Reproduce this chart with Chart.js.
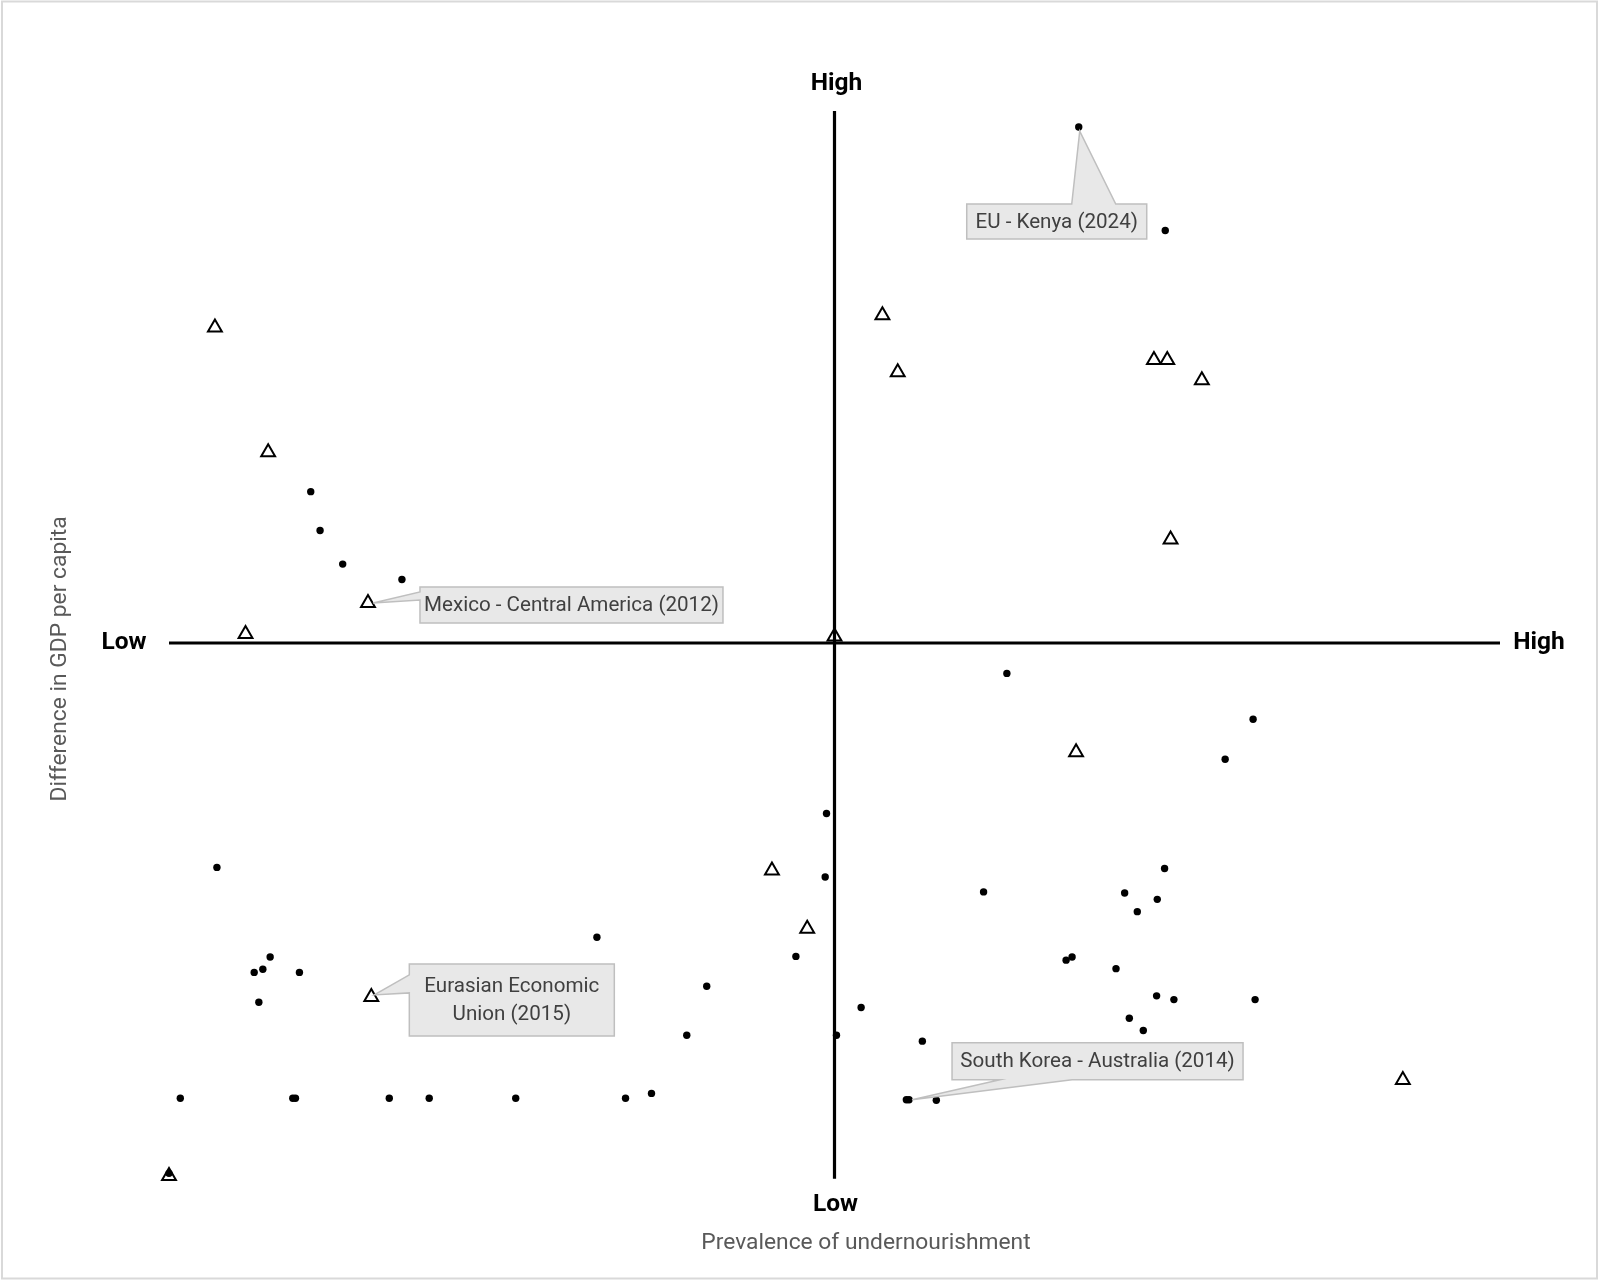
<!DOCTYPE html>
<html>
<head>
<meta charset="utf-8">
<script src="https://cdn.jsdelivr.net/npm/chart.js@4.4.1/dist/chart.umd.min.js"></script>
<style>
  html, body { margin: 0; padding: 0; background: #ffffff; }
  #c { display: block; }
</style>
</head>
<body>
<canvas id="c" width="1600" height="1282"></canvas>
<script>
// ---- Data (normalised positions, axes cross at 0, range -1..1) ----
const dotX = [0.367, 0.497, -0.787, -0.773, -0.739, -0.650, 0.259, 0.629, 0.587, -0.012,
  -0.928, -0.014, 0.224, 0.496, 0.436, 0.485, 0.455, -0.357, -0.848, -0.859,
  -0.872, -0.804, -0.865, -0.058, 0.348, 0.357, 0.423, -0.192, 0.484, 0.510,
  0.632, 0.040, 0.443, 0.464, -0.222, 0.003, 0.132, -0.983, -0.814, -0.810,
  -0.669, -0.609, -0.479, -0.314, -0.275, 0.108, 0.112, 0.153, -1.000];
const dotY = [0.968, 0.774, 0.284, 0.211, 0.148, 0.119, -0.057, -0.143, -0.218, -0.320,
  -0.421, -0.439, -0.467, -0.423, -0.469, -0.481, -0.504, -0.552, -0.589, -0.612,
  -0.618, -0.618, -0.674, -0.588, -0.595, -0.589, -0.611, -0.644, -0.662, -0.669,
  -0.669, -0.684, -0.704, -0.727, -0.736, -0.736, -0.747, -0.854, -0.854, -0.854,
  -0.854, -0.854, -0.854, -0.854, -0.845, -0.857, -0.857, -0.858, -0.995];
const triX = [-0.931, -0.851, -0.701, -0.885, 0.072, 0.095, 0.480, 0.500, 0.552, 0.505,
  0.000, 0.363, -0.094, -0.041, -0.696, 0.854, -1.000];
const triY = [0.592, 0.358, 0.075, 0.017, 0.615, 0.508, 0.531, 0.531, 0.493, 0.194,
  0.012, -0.205, -0.427, -0.536, -0.664, -0.820, -1.000];

const axisEndLabels = ['Low', 'High'];
const xAxisTitle = 'Prevalence of undernourishment';
const yAxisTitle = 'Difference in GDP per capita';

// callout labels and the point they describe
const calloutText = [['EU - Kenya (2024)'], ['Mexico - Central America (2012)'],
  ['Eurasian Economic', 'Union (2015)'], ['South Korea - Australia (2014)']];
const calloutSeries = [0, 1, 1, 0];
const calloutIndex = [0, 2, 14, 46];

// ---- styling for callouts (pixel offsets from the anchor point) ----
const calloutStyle = [
  { dx: -112, dy: 77, w: 180, h: 35, side: 'top', b1: -7, b2: 37, tx: 1, ty: 4 },
  { dx: 52, dy: -16, w: 303, h: 36, side: 'left', b1: -11, b2: -3, tx: 5, ty: 0 },
  { dx: 38, dy: -33, w: 205, h: 72, side: 'left', b1: -22, b2: -4, tx: 3, ty: -2 },
  { dx: 43, dy: -57, w: 291, h: 37, side: 'bottom', b1: 91, b2: 163, tx: 3, ty: 0 }
];

const FONT = 'Roboto, "Noto Sans", "Liberation Sans", sans-serif';

const quadPlugin = {
  id: 'quad',
  beforeDatasetsDraw(chart) {
    const ctx = chart.ctx, xs = chart.scales.x, ys = chart.scales.y;
    ctx.save();
    // outer frame
    ctx.strokeStyle = '#d9d9d9';
    ctx.lineWidth = 2;
    ctx.strokeRect(2, 1.5, 1595, 1277);
    // axes crossing at zero
    ctx.strokeStyle = '#000000';
    ctx.lineWidth = 3.2;
    ctx.beginPath();
    ctx.moveTo(xs.getPixelForValue(-1), ys.getPixelForValue(0));
    ctx.lineTo(xs.getPixelForValue(1), ys.getPixelForValue(0));
    ctx.moveTo(xs.getPixelForValue(0), ys.getPixelForValue(0.998));
    ctx.lineTo(xs.getPixelForValue(0), ys.getPixelForValue(-1.005));
    ctx.stroke();
    ctx.restore();
  },
  afterDraw(chart) {
    const ctx = chart.ctx, xs = chart.scales.x, ys = chart.scales.y;
    const cx = xs.getPixelForValue(0), cy = ys.getPixelForValue(0);
    ctx.save();
    // Low/High end labels
    ctx.fillStyle = '#000000';
    ctx.font = 'bold 24.5px ' + FONT;
    ctx.textAlign = 'center';
    ctx.textBaseline = 'middle';
    ctx.fillText(axisEndLabels[1], cx + 2, 84);
    ctx.fillText(axisEndLabels[0], cx + 1, 1205);
    ctx.fillText(axisEndLabels[0], 124, cy);
    ctx.fillText(axisEndLabels[1], 1539, cy);
    // axis titles
    ctx.fillStyle = '#595959';
    ctx.font = '22.8px ' + FONT;
    ctx.fillText(xAxisTitle, 866, 1243);
    ctx.translate(60, 659);
    ctx.rotate(-Math.PI / 2);
    ctx.fillText(yAxisTitle, 0, 0);
    ctx.restore();

    // callouts
    ctx.save();
    for (let i = 0; i < calloutText.length; i++) {
      const s = calloutStyle[i];
      const meta = chart.getDatasetMeta(calloutSeries[i]);
      const el = meta.data[calloutIndex[i]];
      const ax = el.x, ay = el.y;
      const bx = ax + s.dx, by = ay + s.dy;
      const tipX = ax + s.tx, tipY = ay + s.ty;
      ctx.fillStyle = '#e8e8e8';
      ctx.strokeStyle = '#bfbfbf';
      ctx.lineWidth = 1.5;
      ctx.beginPath();
      ctx.moveTo(bx, by);
      if (s.side === 'top') {
        ctx.lineTo(ax + s.b1, by);
        ctx.lineTo(tipX, tipY);
        ctx.lineTo(ax + s.b2, by);
      }
      ctx.lineTo(bx + s.w, by);
      ctx.lineTo(bx + s.w, by + s.h);
      if (s.side === 'bottom') {
        ctx.lineTo(ax + s.b2, by + s.h);
        ctx.lineTo(tipX, tipY);
        ctx.lineTo(ax + s.b1, by + s.h);
      }
      ctx.lineTo(bx, by + s.h);
      if (s.side === 'left') {
        ctx.lineTo(bx, ay + s.b2);
        ctx.lineTo(tipX, tipY);
        ctx.lineTo(bx, ay + s.b1);
      }
      ctx.closePath();
      ctx.fill();
      ctx.stroke();
      ctx.fillStyle = '#404040';
      ctx.font = '20.6px ' + FONT;
      ctx.textAlign = 'center';
      ctx.textBaseline = 'middle';
      const lines = calloutText[i];
      const lh = 28;
      const startY = by + s.h / 2 - (lines.length - 1) * lh / 2;
      lines.forEach((t, k) => ctx.fillText(t, bx + s.w / 2, startY + k * lh + 1));
    }
    ctx.restore();
  }
};

const dotData = dotX.map((x, i) => ({ x: x, y: dotY[i] }));
const triData = triX.map((x, i) => ({ x: x, y: triY[i] }));

new Chart(document.getElementById('c'), {
  type: 'scatter',
  data: {
    datasets: [
      { label: 'dots', data: dotData, pointStyle: 'circle', pointRadius: 3.7,
        backgroundColor: '#000000', borderWidth: 0, clip: false },
      { label: 'triangles', data: triData, pointStyle: 'triangle', pointRadius: 8,
        backgroundColor: 'rgba(0,0,0,0)', borderColor: '#000000', borderWidth: 2, clip: false }
    ]
  },
  options: {
    responsive: false,
    animation: false,
    devicePixelRatio: 1,
    events: [],
    layout: { padding: { left: 169, right: 100, top: 110, bottom: 106 } },
    scales: {
      x: { type: 'linear', min: -1, max: 1, display: false },
      y: { type: 'linear', min: -1, max: 1, display: false }
    },
    plugins: { legend: { display: false }, tooltip: { enabled: false } }
  },
  plugins: [quadPlugin]
});
</script>
</body>
</html>
